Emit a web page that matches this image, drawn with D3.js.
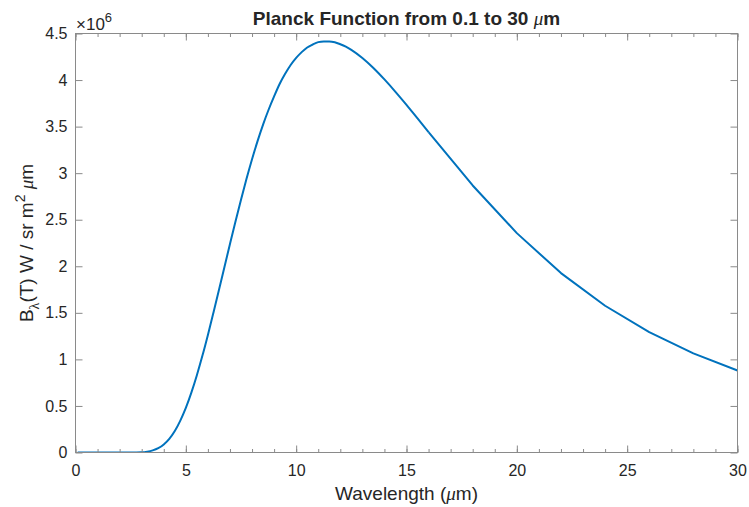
<!DOCTYPE html>
<html>
<head>
<meta charset="utf-8">
<script src="https://cdn.jsdelivr.net/npm/d3@7"></script>
<style>
  body { margin: 0; background: #fff; }
  text { font-family: "Liberation Sans", Arial, sans-serif; fill: #262626; }
</style>
</head>
<body>
<div id="container"></div>
<script>
// wavelength in micrometres, radiance in units of 1e6
let wavelength = [0.1, 0.5, 1, 1.5, 2, 2.5, 3, 3.25, 3.5, 3.75, 4, 4.25, 4.5, 4.75, 5, 5.25, 5.5, 5.75,
  6, 6.25, 6.5, 6.75, 7, 7.25, 7.5, 7.75, 8, 8.25, 8.5, 8.75, 9, 9.25, 9.5, 9.75,
  10, 10.25, 10.5, 10.75, 11, 11.25, 11.5, 11.75, 12, 12.25, 12.5, 13, 13.5, 14, 14.5, 15, 15.5, 16,
  18, 20, 22, 24, 26, 28, 30];
let radiance = [0, 0, 0, 0, 0, 0.0002, 0.003, 0.0095, 0.023, 0.047, 0.087, 0.147, 0.231, 0.343, 0.479, 0.643, 0.83, 1.038,
  1.263, 1.501, 1.745, 1.993, 2.239, 2.481, 2.714, 2.939, 3.15, 3.344, 3.522, 3.681, 3.824, 3.957, 4.067, 4.162,
  4.238, 4.3, 4.35, 4.382, 4.407, 4.415, 4.415, 4.406, 4.385, 4.359, 4.325, 4.237, 4.13, 4.007, 3.874, 3.734, 3.588, 3.442,
  2.868, 2.356, 1.927, 1.576, 1.292, 1.065, 0.881];

let xTicks = [0, 5, 10, 15, 20, 25, 30];
let xMinorTicks = d3.range(0, 31, 1);
let yTicks = [0, 0.5, 1, 1.5, 2, 2.5, 3, 3.5, 4, 4.5];

let points = wavelength.map((w, i) => ({ w: w, b: radiance[i] }));

let plotLeft = 75.5, plotRight = 737.5, plotTop = 33.5, plotBottom = 452.5;

let viz = d3.select("#container")
  .append("svg")
    .attr("width", 749)
    .attr("height", 507)
  ;

let x = d3.scaleLinear().domain([0, 30]).range([plotLeft, plotRight]);
let y = d3.scaleLinear().domain([0, 4.5]).range([plotBottom, plotTop]);

viz.append("clipPath").attr("id", "plotclip")
  .append("rect")
    .attr("x", plotLeft).attr("y", plotTop)
    .attr("width", plotRight - plotLeft).attr("height", plotBottom - plotTop);

// the curve
let line = d3.line().curve(d3.curveMonotoneX).x(d => x(d.w)).y(d => y(d.b));
let lineTail = d3.line().x(d => x(d.w)).y(d => y(d.b));
// smooth part up to 16 um, straight segments after (as in the original sampling)
viz.append("path")
    .datum(points.filter(d => d.w <= 16))
    .attr("d", line)
    .attr("fill", "none")
    .attr("stroke", "#0072BD")
    .attr("stroke-width", 2)
    .attr("clip-path", "url(#plotclip)")
  ;
viz.append("path")
    .datum(points.filter(d => d.w >= 16))
    .attr("d", lineTail)
    .attr("fill", "none")
    .attr("stroke", "#0072BD")
    .attr("stroke-width", 2)
    .attr("stroke-linejoin", "round")
    .attr("clip-path", "url(#plotclip)")
  ;

function styleAxis(g){
  g.select(".domain").remove();
  g.selectAll(".tick line").attr("stroke", "#8a8a8a");
  g.selectAll(".tick text").style("font-size", "16px").attr("fill", "#262626")
    .attr("font-family", "Liberation Sans, Arial, sans-serif");
}

// bottom axis, ticks pointing inwards
viz.append("g")
    .attr("transform", "translate(0," + plotBottom + ")")
    .call(d3.axisBottom(x).tickValues(xMinorTicks).tickSize(-3.5).tickFormat(""))
    .call(styleAxis);
viz.append("g")
    .attr("transform", "translate(0," + plotBottom + ")")
    .call(d3.axisBottom(x).tickValues(xTicks).tickSize(-7).tickPadding(12).tickFormat(d => String(d)))
    .call(styleAxis);

// top axis mirror
viz.append("g")
    .attr("transform", "translate(0," + plotTop + ")")
    .call(d3.axisTop(x).tickValues(xMinorTicks).tickSize(-3.5).tickFormat(""))
    .call(styleAxis);
viz.append("g")
    .attr("transform", "translate(0," + plotTop + ")")
    .call(d3.axisTop(x).tickValues(xTicks).tickSize(-7).tickFormat(""))
    .call(styleAxis);

// left and right axes
viz.append("g")
    .attr("transform", "translate(" + plotLeft + ",0)")
    .call(d3.axisLeft(y).tickValues(yTicks).tickSize(-7).tickPadding(8).tickFormat(d => String(d)))
    .call(styleAxis);
viz.append("g")
    .attr("transform", "translate(" + plotRight + ",0)")
    .call(d3.axisRight(y).tickValues(yTicks).tickSize(-7).tickFormat(""))
    .call(styleAxis);

// box
viz.append("rect")
    .attr("x", plotLeft).attr("y", plotTop)
    .attr("width", plotRight - plotLeft).attr("height", plotBottom - plotTop)
    .attr("fill", "none")
    .attr("stroke", "#8a8a8a")
    .attr("stroke-width", 1)
  ;

// exponent label
let expo = viz.append("text")
    .attr("x", 76).attr("y", 30)
    .style("font-size", "17px");
expo.append("tspan").text("\u00d710");
expo.append("tspan").attr("dy", -8).style("font-size", "13px").text("6");

// title
let title = viz.append("text")
    .attr("x", (plotLeft + plotRight) / 2).attr("y", 25)
    .attr("text-anchor", "middle")
    .style("font-size", "19px")
    .style("font-weight", "bold")
    .attr("fill", "#000");
title.append("tspan").text("Planck Function from 0.1 to 30 ");
title.append("tspan").style("font-family", "Liberation Serif, serif").style("font-style", "italic")
  .style("font-weight", "normal").text("\u03bc");
title.append("tspan").text("m");

// x label
let xl = viz.append("text")
    .attr("x", (plotLeft + plotRight) / 2).attr("y", 500)
    .attr("text-anchor", "middle")
    .style("font-size", "19px");
xl.append("tspan").text("Wavelength (");
xl.append("tspan").style("font-family", "Liberation Serif, serif").style("font-style", "italic").text("\u03bc");
xl.append("tspan").text("m)");

// y label
let yl = viz.append("text")
    .attr("transform", "translate(33," + ((plotTop + plotBottom) / 2) + ") rotate(-90)")
    .attr("text-anchor", "middle")
    .style("font-size", "19px");
yl.append("tspan").text("B");
yl.append("tspan").attr("dy", 6).style("font-family", "Liberation Serif, serif").style("font-size", "14px").text("\u03bb");
yl.append("tspan").attr("dy", -6).text("(T) W / sr m");
yl.append("tspan").attr("dy", -8).style("font-size", "14px").text("2");
yl.append("tspan").attr("dy", 8).text(" ");
yl.append("tspan").style("font-family", "Liberation Serif, serif").style("font-style", "italic").text("\u03bc");
yl.append("tspan").text("m");
</script>
</body>
</html>
